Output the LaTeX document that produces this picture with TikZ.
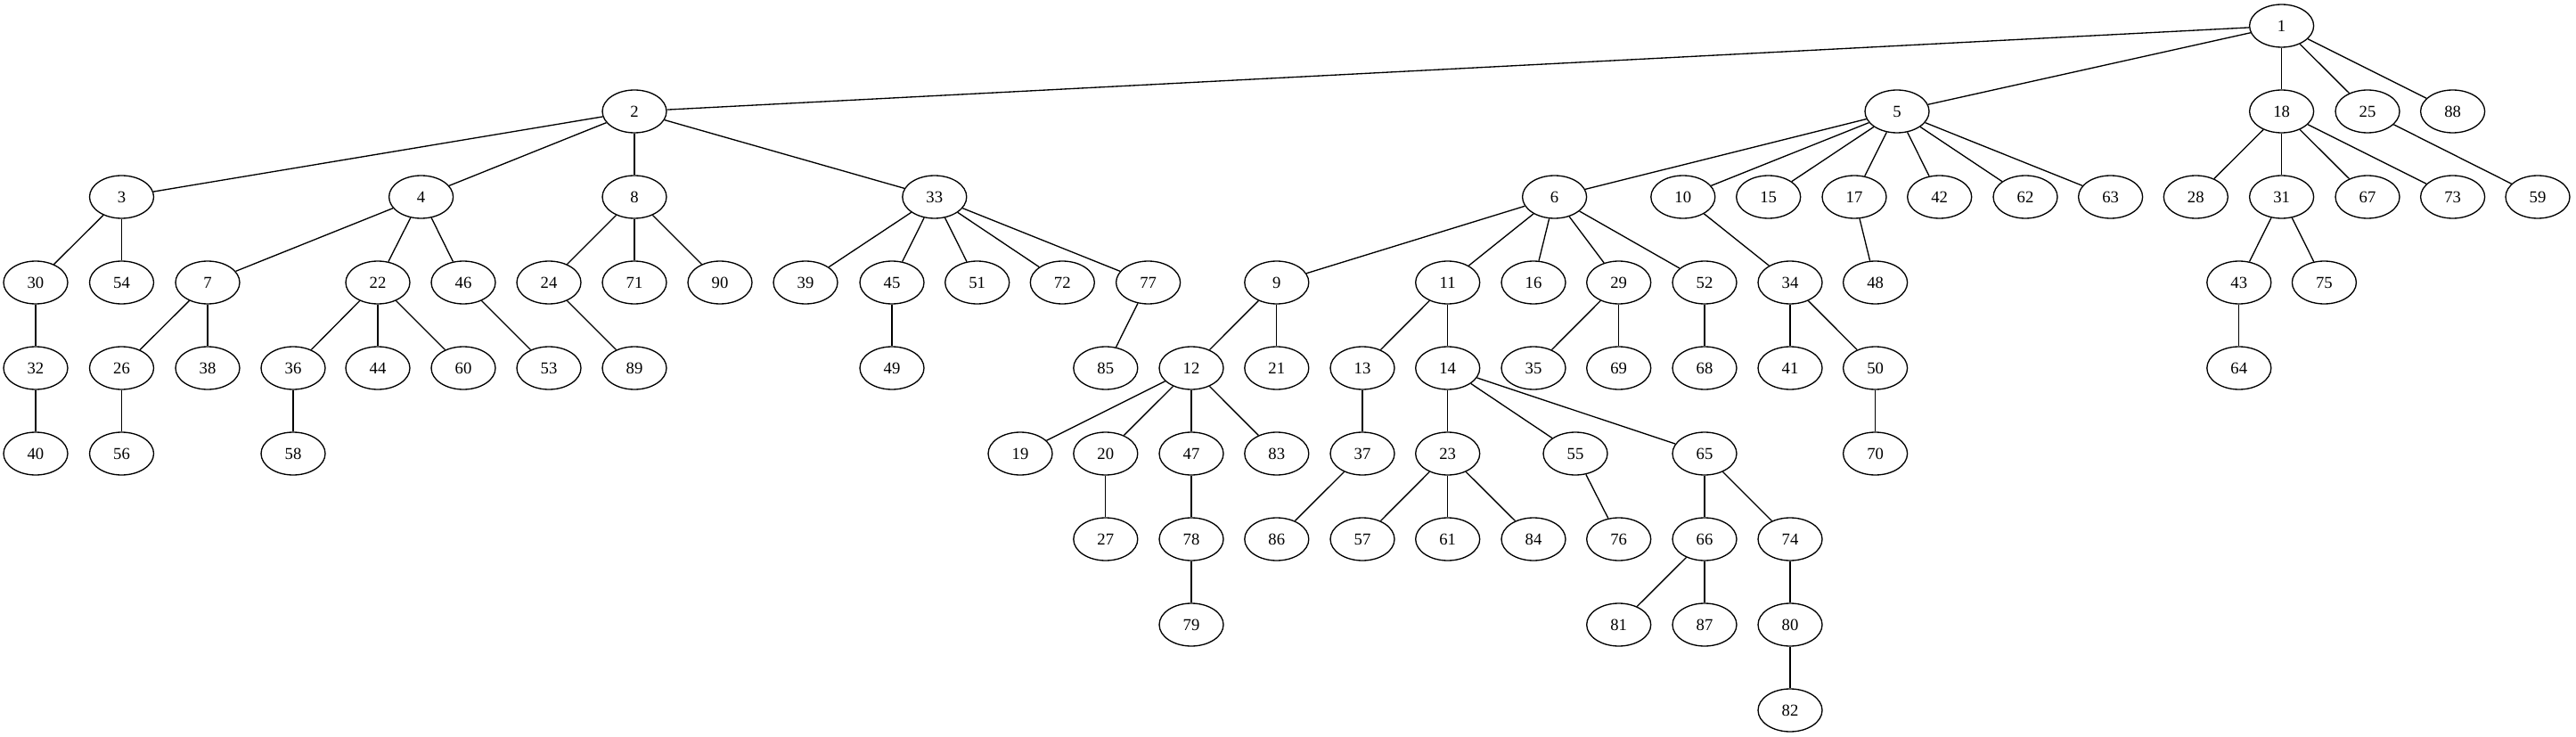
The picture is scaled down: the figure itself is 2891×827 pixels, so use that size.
\documentclass[tikz,border=0pt]{standalone}
\usepackage{fontspec}
\setmainfont{Liberation Serif}
\usepackage{tikz}
\usetikzlibrary{positioning,shapes.geometric}

\begin{document}
\begin{tikzpicture}[x=0.75pt,y=-0.75pt,font=\fontsize{14pt}{16pt}\selectfont,line width=1pt]
    \tikzstyle{vertex}=[draw, ellipse, minimum width=54pt, minimum height=36pt, inner sep=0pt, node distance=72pt, on grid]
    \useasboundingbox (0,0) rectangle (2891,827);
    % Row 0 and 1
    \node[vertex] (v1) at (2560.6,29) {1};
    \node[vertex] (v2) at (712,125) {2};
    \node[vertex] (v5) at (2129,125) {5};
    \node[vertex,below of=v1] (v18) {18};
    \node[vertex] (v25) at (2657,125) {25};
    \node[vertex] (v88) at (2752.6,125) {88};

    % Row 2
    \node[vertex] (v3) at (136.5,221) {3};
    \node[vertex] (v4) at (472.6,221) {4};
    \node[vertex,below of=v2] (v8) {8};
    \node[vertex] (v33) at (1048.8,221) {33};
    \node[vertex] (v6) at (1744.6,221) {6};
    \node[vertex] (v10) at (1888.8,221) {10};
    \node[vertex] (v15) at (1984.7,221) {15};
    \node[vertex] (v17) at (2081,221) {17};
    \node[vertex] (v42) at (2176.7,221) {42};
    \node[vertex] (v62) at (2273,221) {62};
    \node[vertex] (v63) at (2368.6,221) {63};
    \node[vertex] (v28) at (2464.3,221) {28};
    \node[vertex,below of=v18] (v31) {31};
    \node[vertex] (v67) at (2657,221) {67};
    \node[vertex] (v73) at (2752.6,221) {73};
    \node[vertex] (v59) at (2848,221) {59};

    % Row 3
    \node[vertex] (v30) at (40,317) {30};
    \node[vertex,below of=v3] (v54) {54};
    \node[vertex] (v7) at (233,317) {7};
    \node[vertex] (v22) at (424,317) {22};
    \node[vertex] (v46) at (520,317) {46};
    \node[vertex] (v24) at (616,317) {24};
    \node[vertex,below of=v8] (v71) {71};
    \node[vertex] (v90) at (808,317) {90};
    \node[vertex] (v39) at (904,317) {39};
    \node[vertex] (v45) at (1001,317) {45};
    \node[vertex] (v51) at (1096.7,317) {51};
    \node[vertex] (v72) at (1192.3,317) {72};
    \node[vertex] (v77) at (1288.6,317) {77};
    \node[vertex] (v9) at (1432.8,317) {9};
    \node[vertex] (v11) at (1624.7,317) {11};
    \node[vertex] (v16) at (1721,317) {16};
    \node[vertex] (v29) at (1816.7,317) {29};
    \node[vertex] (v52) at (1913,317) {52};
    \node[vertex] (v34) at (2009,317) {34};
    \node[vertex] (v48) at (2104.6,317) {48};
    \node[vertex] (v43) at (2512.8,317) {43};
    \node[vertex] (v75) at (2608.4,317) {75};

    % Row 4
    \node[vertex,below of=v30] (v32) {32};
    \node[vertex,below of=v54,yshift=0pt] (v26) {26};
    \node[vertex,below of=v7] (v38) {38};
    \node[vertex] (v36) at (329,413) {36};
    \node[vertex,below of=v22] (v44) {44};
    \node[vertex,below of=v46] (v60) {60};
    \node[vertex,below of=v24] (v53) {53};
    \node[vertex,below of=v71] (v89) {89};
    \node[vertex,below of=v45] (v49) {49};
    \node[vertex] (v85) at (1240.8,413) {85};
    \node[vertex] (v12) at (1337,413) {12};
    \node[vertex,below of=v9] (v21) {21};
    \node[vertex] (v13) at (1529,413) {13};
    \node[vertex,below of=v11] (v14) {14};
    \node[vertex,below of=v16] (v35) {35};
    \node[vertex,below of=v29] (v69) {69};
    \node[vertex,below of=v52] (v68) {68};
    \node[vertex,below of=v34] (v41) {41};
    \node[vertex,below of=v48] (v50) {50};
    \node[vertex,below of=v43] (v64) {64};

    % Row 5
    \node[vertex,below of=v32] (v40) {40};
    \node[vertex,below of=v26] (v56) {56};
    \node[vertex,below of=v36] (v58) {58};
    \node[vertex] (v19) at (1145,509) {19};
    \node[vertex,below of=v85] (v20) {20};
    \node[vertex,below of=v12] (v47) {47};
    \node[vertex,below of=v21] (v83) {83};
    \node[vertex,below of=v13] (v37) {37};
    \node[vertex,below of=v14] (v23) {23};
    \node[vertex] (v55) at (1768,509) {55};
    \node[vertex,below of=v68] (v65) {65};
    \node[vertex,below of=v50] (v70) {70};

    % Row 6 to 8
    \node[vertex,below of=v20] (v27) {27};
    \node[vertex,below of=v47] (v78) {78};
    \node[vertex,below of=v83] (v86) {86};
    \node[vertex,below of=v37] (v57) {57};
    \node[vertex,below of=v23] (v61) {61};
    \node[vertex] (v84) at (1721,605) {84};
    \node[vertex] (v76) at (1816.7,605) {76};
    \node[vertex,below of=v65] (v66) {66};
    \node[vertex] (v74) at (2009,605) {74};
    \node[vertex,below of=v78] (v79) {79};
    \node[vertex,below of=v76] (v81) {81};
    \node[vertex,below of=v66] (v87) {87};
    \node[vertex,below of=v74] (v80) {80};
    \node[vertex,below of=v80] (v82) {82};

    \draw (v1) -- (v2);
    \draw (v1) -- (v5);
    \draw (v1) -- (v18);
    \draw (v1) -- (v25);
    \draw (v1) -- (v88);

    \draw (v2) -- (v3);
    \draw (v2) -- (v4);
    \draw (v2) -- (v8);
    \draw (v2) -- (v33);
    \draw (v3) -- (v30);
    \draw (v3) -- (v54);
    \draw (v30) -- (v32);
    \draw (v32) -- (v40);
    \draw (v4) -- (v7);
    \draw (v4) -- (v22);
    \draw (v4) -- (v46);
    \draw (v7) -- (v26);
    \draw (v7) -- (v38);
    \draw (v26) -- (v56);
    \draw (v22) -- (v36);
    \draw (v22) -- (v44);
    \draw (v22) -- (v60);
    \draw (v36) -- (v58);
    \draw (v46) -- (v53);
    \draw (v8) -- (v24);
    \draw (v8) -- (v71);
    \draw (v8) -- (v90);
    \draw (v24) -- (v89);
    \draw (v33) -- (v39);
    \draw (v33) -- (v45);
    \draw (v33) -- (v51);
    \draw (v33) -- (v72);
    \draw (v33) -- (v77);
    \draw (v45) -- (v49);
    \draw (v77) -- (v85);

    \draw (v5) -- (v6);
    \draw (v5) -- (v10);
    \draw (v5) -- (v15);
    \draw (v5) -- (v17);
    \draw (v5) -- (v42);
    \draw (v5) -- (v62);
    \draw (v5) -- (v63);
    \draw (v6) -- (v9);
    \draw (v6) -- (v11);
    \draw (v6) -- (v16);
    \draw (v6) -- (v29);
    \draw (v6) -- (v52);
    \draw (v9) -- (v12);
    \draw (v9) -- (v21);
    \draw (v12) -- (v19);
    \draw (v12) -- (v20);
    \draw (v12) -- (v47);
    \draw (v12) -- (v83);
    \draw (v20) -- (v27);
    \draw (v47) -- (v78);
    \draw (v78) -- (v79);
    \draw (v11) -- (v13);
    \draw (v11) -- (v14);
    \draw (v13) -- (v37);
    \draw (v37) -- (v86);
    \draw (v14) -- (v23);
    \draw (v14) -- (v55);
    \draw (v14) -- (v65);
    \draw (v23) -- (v57);
    \draw (v23) -- (v61);
    \draw (v23) -- (v84);
    \draw (v55) -- (v76);
    \draw (v65) -- (v66);
    \draw (v65) -- (v74);
    \draw (v66) -- (v81);
    \draw (v66) -- (v87);
    \draw (v74) -- (v80);
    \draw (v80) -- (v82);
    \draw (v29) -- (v35);
    \draw (v29) -- (v69);
    \draw (v52) -- (v68);
    \draw (v10) -- (v34);
    \draw (v34) -- (v41);
    \draw (v34) -- (v50);
    \draw (v50) -- (v70);
    \draw (v17) -- (v48);

    \draw (v18) -- (v28);
    \draw (v18) -- (v31);
    \draw (v18) -- (v67);
    \draw (v18) -- (v73);
    \draw (v31) -- (v43);
    \draw (v31) -- (v75);
    \draw (v43) -- (v64);
    \draw (v25) -- (v59);
\end{tikzpicture}
\end{document}
